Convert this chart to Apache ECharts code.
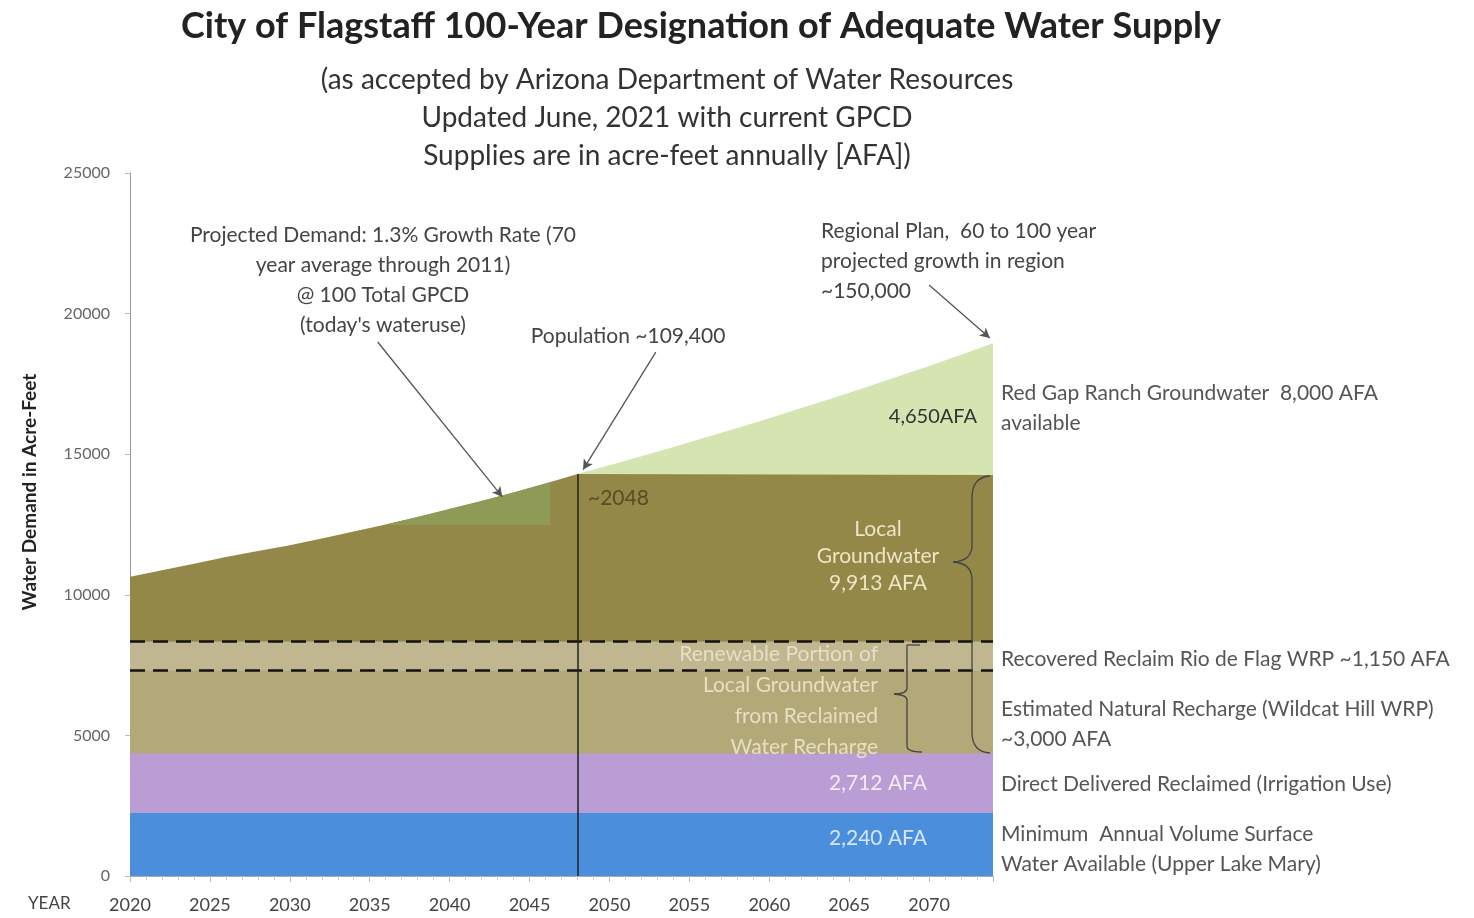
<!DOCTYPE html>
<html>
<head>
<meta charset="utf-8">
<title>City of Flagstaff 100-Year Designation of Adequate Water Supply</title>
<script src="https://cdn.jsdelivr.net/npm/echarts@6/dist/echarts.min.js"></script>
<style>
  html, body { margin: 0; padding: 0; background: #fff; }
  #chart { width: 1474px; height: 918px; }
</style>
</head>
<body>
<div id="chart"></div>
<script>
// projected demand (acre-feet)
const demandYears = [2020, 2022, 2024, 2026, 2028, 2030, 2032, 2034, 2036, 2038, 2040, 2042, 2044, 2046, 2048];
const demandValues = [10640, 10870, 11100, 11340, 11560, 11760, 12000, 12250, 12500, 12770, 13050, 13340, 13640, 13960, 14300];
const futureYears = [2048, 2050, 2052, 2054, 2056, 2058, 2060, 2062, 2064, 2066, 2068, 2070, 2072, 2074];
const futureValues = [14300, 14610, 14930, 15260, 15590, 15930, 16280, 16640, 17000, 17370, 17750, 18140, 18540, 18950];

// green patch on the demand curve
const patchYears = [2036, 2038, 2040, 2042, 2044, 2046, 2046.3];
const patchValues = [12500, 12770, 13050, 13340, 13640, 13960, 14010];
const patchBase = 12480;

// supply bands (cumulative tops, AFA)
const surfaceTop = 2240;      // Upper Lake Mary
const reclaimedTop = 4352;    // direct delivered reclaimed
const rechargeTop = 7301;     // natural recharge (Wildcat Hill)
const rioTop = 8332;          // recovered reclaim Rio de Flag
const localTop = 14260;       // local groundwater
const startYear = 2020;
const splitYear = 2048;
const endYear = 2074;

const flat = (v) => [[startYear, v], [endYear, v]];
const pairs = (xs, ys) => xs.map((x, i) => [x, ys[i]]);

const chart = echarts.init(document.getElementById('chart'));
const font = 'Lato, "Open Sans", sans-serif';

const localData = pairs(demandYears, demandValues).concat([[splitYear, localTop], [endYear, localTop]]);

const areaSeries = (name, data, color, z, origin) => ({
  name: name,
  type: 'line',
  data: data,
  showSymbol: false,
  silent: true,
  z: z,
  lineStyle: { width: 0 },
  areaStyle: { color: color, opacity: 1, origin: origin === undefined ? 'start' : origin }
});

const txt = (x, y, text, size, fill, align, lineHeight, weight) => ({
  type: 'text', x: x, y: y, z: 20, silent: true,
  style: { text: text, font: (weight || 'normal') + ' ' + size + 'px ' + font, fill: fill, align: align || 'left', lineHeight: lineHeight || size + 4 }
});
const seg = (x1, y1, x2, y2) => ({ type: 'line', z: 20, silent: true, shape: { x1, y1, x2, y2 }, style: { stroke: '#444', lineWidth: 1.3 } });
const curve = (x1, y1, cpx1, cpy1, x2, y2) => ({ type: 'bezierCurve', z: 20, silent: true, shape: { x1, y1, cpx1, cpy1, x2, y2 }, style: { stroke: '#444', lineWidth: 1.3, fill: null } });

const option = {
  animation: false,
  backgroundColor: '#fff',
  textStyle: { fontFamily: font },
  grid: { left: 130, top: 173, right: 481, bottom: 42 },
  xAxis: {
    type: 'value',
    min: startYear,
    max: endYear,
    interval: 5,
    axisLine: { show: true, lineStyle: { color: '#aaa' } },
    axisTick: { show: true, length: 6, lineStyle: { color: '#bbb' } },
    minorTick: { show: true, splitNumber: 5, length: 4, lineStyle: { color: '#ccc' } },
    splitLine: { show: false },
    axisLabel: {
      margin: 20, fontSize: 18, color: '#444', fontFamily: font,
      formatter: (v) => (v % 5 === 0 ? String(v) : '')
    }
  },
  yAxis: {
    type: 'value',
    min: 0,
    max: 25000,
    interval: 5000,
    axisLine: { show: true, lineStyle: { color: '#999' } },
    axisTick: { show: true, length: 5, lineStyle: { color: '#bbb' } },
    splitLine: { show: false },
    axisLabel: { margin: 20, fontSize: 16, color: '#666', fontFamily: font, formatter: (v) => String(v) }
  },
  series: [
    areaSeries('Red Gap Ranch Groundwater', pairs(futureYears, futureValues), '#d6e4b2', 1),
    areaSeries('Local Groundwater', localData, '#948849', 2),
    areaSeries('Demand patch', pairs(patchYears, patchValues), '#8e9a55', 3, patchBase),
    areaSeries('Natural Recharge', flat(rioTop), '#b3a878', 4),
    areaSeries('Recovered Reclaim', flat(rioTop), '#c0b68f', 5, rechargeTop),
    areaSeries('Direct Delivered Reclaimed', flat(reclaimedTop), '#ba9dd4', 6),
    {
      name: 'Surface Water',
      type: 'line',
      data: flat(surfaceTop),
      showSymbol: false,
      silent: true,
      z: 7,
      lineStyle: { width: 0 },
      areaStyle: { color: '#4b8fdc', opacity: 1 },
      markLine: {
        z: 10,
        silent: true,
        symbol: ['none', 'none'],
        label: { show: false },
        lineStyle: { color: '#111', type: [15, 8], width: 2.5 },
        data: [{ yAxis: rioTop }, { yAxis: rechargeTop }]
      }
    },
    {
      name: 'markers',
      type: 'line',
      data: [],
      z: 8,
      markLine: {
        z: 11,
        silent: true,
        symbol: ['none', 'none'],
        label: { show: false },
        lineStyle: { color: '#222', type: 'solid', width: 1.5 },
        data: [
          [{ coord: [splitYear, 0] }, { coord: [splitYear, demandValues[demandValues.length - 1]] }]
        ]
      }
    },
    {
      name: 'arrows',
      type: 'line',
      data: [],
      z: 9,
      markLine: {
        z: 12,
        silent: true,
        symbol: ['none', 'arrow'],
        symbolSize: [8, 10],
        label: { show: false },
        lineStyle: { color: '#555', type: 'solid', width: 1.3 },
        data: [
          [{ coord: [2035.5, 18990] }, { coord: [2043.3, 13480] }],
          [{ coord: [2052.9, 18630] }, { coord: [2048.35, 14450] }],
          [{ coord: [2070.0, 21020] }, { coord: [2073.8, 19130] }]
        ]
      }
    }
  ],
  graphic: [
    txt(701, 6, 'City of Flagstaff 100-Year Designation of Adequate Water Supply', 36, '#222', 'center', 40, 'bold'),
    txt(667, 61, '(as accepted by Arizona Department of Water Resources\nUpdated June, 2021 with current GPCD\nSupplies are in acre-feet annually [AFA])', 28, '#333', 'center', 38),
    {
      type: 'text', x: 30, y: 492, rotation: Math.PI / 2, z: 20, silent: true,
      style: { text: 'Water Demand in Acre-Feet', font: 'bold 19px ' + font, fill: '#222', align: 'center', verticalAlign: 'middle' }
    },
    txt(28, 893, 'YEAR', 17, '#444'),
    // annotations above the curve
    txt(383, 220, 'Projected Demand: 1.3% Growth Rate (70\nyear average through 2011)\n@ 100 Total GPCD\n(today\'s wateruse)', 21, '#444', 'center', 30),
    txt(628, 324, 'Population ~109,400', 21, '#444', 'center'),
    txt(821, 216, 'Regional Plan,  60 to 100 year\nprojected growth in region\n~150,000', 21, '#444', 'left', 30),
    // labels inside the bands
    txt(977, 405, '4,650AFA', 20, '#333', 'right'),
    txt(588, 486, '~2048', 21, '#5b4b22', 'left'),
    txt(878, 516, 'Local\nGroundwater\n9,913 AFA', 21, '#ece5c6', 'center', 27),
    txt(878, 639, 'Renewable Portion of\nLocal Groundwater\nfrom Reclaimed\nWater Recharge', 21, '#e6dfc4', 'right', 31),
    txt(878, 771, '2,712 AFA', 21, '#f3eaf7', 'center'),
    txt(878, 826, '2,240 AFA', 21, '#d6e6ff', 'center'),
    // large brace (local groundwater)
    curve(990, 476, 972, 477, 972, 498),
    seg(972, 498, 972, 545),
    curve(972, 545, 972, 561, 953, 562),
    curve(953, 562, 972, 563, 972, 580),
    seg(972, 580, 972, 732),
    curve(972, 732, 972, 752, 990, 753),
    // small brace (renewable portion)
    seg(907, 645, 920, 645),
    seg(907, 645, 907, 688),
    curve(907, 688, 907, 694, 894, 694),
    curve(894, 694, 907, 695, 907, 700),
    seg(907, 700, 907, 746),
    curve(907, 746, 907, 752, 922, 752),
    // legend text on the right
    txt(1001, 378, 'Red Gap Ranch Groundwater  8,000 AFA\navailable', 21, '#555', 'left', 30),
    txt(1001, 647, 'Recovered Reclaim Rio de Flag WRP ~1,150 AFA', 21, '#555'),
    txt(1001, 694, 'Estimated Natural Recharge (Wildcat Hill WRP)\n~3,000 AFA', 21, '#555', 'left', 30),
    txt(1001, 772, 'Direct Delivered Reclaimed (Irrigation Use)', 21, '#555'),
    txt(1001, 819, 'Minimum  Annual Volume Surface\nWater Available (Upper Lake Mary)', 21, '#555', 'left', 30)
  ]
};

chart.setOption(option);
</script>
</body>
</html>
